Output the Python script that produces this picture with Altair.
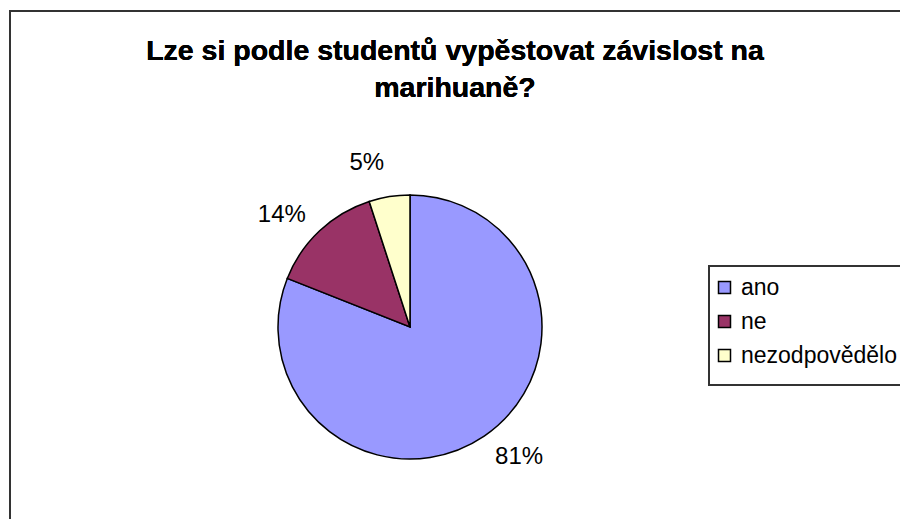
import altair as alt
import pandas as pd

categories = ["ano", "ne", "nezodpovědělo"]
values = [81, 14, 5]
labels = ["81%", "14%", "5%"]
colors = ["#9999FF", "#993366", "#FFFFCC"]
title_lines = ["Lze si podle studentů vypěstovat závislost na", "marihuaně?"]

df = pd.DataFrame({"cat": categories, "val": values, "lab": labels, "idx": list(range(len(categories)))})

CX, CY, R = 402, 319, 132
FONT = "Liberation Sans"

color = alt.Color("cat:N", scale=alt.Scale(domain=categories, range=colors),
                  legend=alt.Legend(title=None, orient="none", legendX=705, legendY=268,
                                    symbolType="square", symbolSize=144, symbolStrokeColor="black",
                                    symbolStrokeWidth=1.5, labelFont=FONT, labelFontSize=23,
                                    labelColor="black", rowPadding=10, labelOffset=5, padding=0,
                                    labelLimit=400))

base = alt.Chart(df)

border = base.mark_rect(fill="white", stroke="#333333", strokeWidth=2).encode(
    x=alt.value(2), x2=alt.value(1200), y=alt.value(3), y2=alt.value(1200))

legend_box = base.mark_rect(fill="white", stroke="#333333", strokeWidth=2).encode(
    x=alt.value(701), x2=alt.value(1200), y=alt.value(258), y2=alt.value(377))

title = base.mark_text(font=FONT, fontSize=28.5, fontWeight="bold", color="black",
                       lineHeight=37, baseline="alphabetic", align="center").encode(
    x=alt.value(447), y=alt.value(52), text=alt.value(title_lines))

pie = base.mark_arc(radius=R, stroke="black", strokeWidth=1.5).encode(
    theta=alt.Theta("val:Q", stack=True),
    color=color,
    order=alt.Order("idx:Q"),
    x=alt.value(CX), y=alt.value(CY))

text = base.mark_text(radius=170, thetaOffset=-0.1, font=FONT, fontSize=24, color="black").encode(
    theta=alt.Theta("val:Q", stack=True),
    order=alt.Order("idx:Q"),
    text="lab:N",
    x=alt.value(CX), y=alt.value(CY))

chart = alt.layer(border, legend_box, title, pie, text).properties(
    width=892, height=511, autosize=alt.AutoSizeParams(type="none"), padding=0
).configure_view(stroke=None)

chart.save("out.html", embed_options={"renderer": "svg", "actions": False})
